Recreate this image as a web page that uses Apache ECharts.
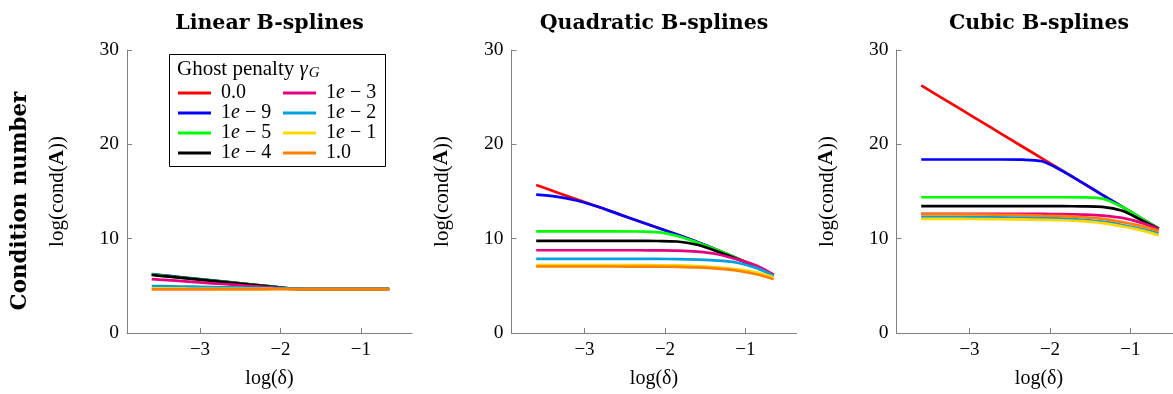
<!DOCTYPE html>
<html>
<head>
<meta charset="utf-8">
<script src="https://cdn.jsdelivr.net/npm/echarts@6/dist/echarts.min.js"></script>
<style>
html,body{margin:0;padding:0;background:#fff;overflow:hidden;width:1173px;height:394px;}
#chart{width:1200px;height:394px;}
</style>
</head>
<body>
<div id="chart"></div>
<script>
// ---- data ----
const panelTitles = ['Linear B-splines', 'Quadratic B-splines', 'Cubic B-splines'];
const seriesNames = ['0.0', '1e-9', '1e-5', '1e-4', '1e-3', '1e-2', '1e-1', '1.0'];
const logDelta = [-3.6, -3.35, -3.1, -2.85, -2.6, -2.35, -2.1, -1.85, -1.6, -1.35, -1.1, -0.85, -0.65];
const xTicks = [-3, -2, -1];
const yTicks = [0, 10, 20, 30];

// Linear B-splines
const linRed    = [6.20, 5.98, 5.77, 5.55, 5.34, 5.12, 4.91, 4.69, 4.65, 4.65, 4.65, 4.65, 4.65];
const linBlue   = [6.25, 6.02, 5.80, 5.58, 5.36, 5.14, 4.92, 4.70, 4.65, 4.65, 4.65, 4.65, 4.65];
const linGreen  = [6.20, 5.98, 5.77, 5.55, 5.34, 5.12, 4.91, 4.69, 4.65, 4.65, 4.65, 4.65, 4.65];
const linBlack  = [6.15, 5.94, 5.73, 5.52, 5.31, 5.10, 4.89, 4.68, 4.65, 4.65, 4.65, 4.65, 4.65];
const linMag    = [5.72, 5.57, 5.42, 5.27, 5.12, 4.97, 4.83, 4.68, 4.65, 4.65, 4.65, 4.65, 4.65];
const linCyan   = [4.98, 4.95, 4.91, 4.87, 4.83, 4.78, 4.73, 4.68, 4.65, 4.65, 4.65, 4.65, 4.65];
const linYellow = [4.70, 4.70, 4.69, 4.69, 4.68, 4.68, 4.67, 4.66, 4.65, 4.65, 4.65, 4.65, 4.65];
const linOrange = [4.63, 4.63, 4.63, 4.63, 4.63, 4.63, 4.64, 4.64, 4.64, 4.64, 4.64, 4.64, 4.64];

// Quadratic B-splines
const quadRed    = [15.68, 14.93, 14.18, 13.43, 12.68, 11.93, 11.18, 10.43, 9.65, 8.80, 7.90, 6.95, 6.15];
const quadBlue   = [14.66, 14.45, 14.05, 13.43, 12.68, 11.93, 11.18, 10.43, 9.65, 8.80, 7.90, 6.95, 6.15];
const quadGreen  = [10.77, 10.77, 10.77, 10.77, 10.77, 10.76, 10.70, 10.30, 9.60, 8.80, 7.90, 6.95, 6.15];
const quadBlack  = [9.76, 9.76, 9.76, 9.76, 9.76, 9.76, 9.75, 9.70, 9.35, 8.65, 7.85, 6.95, 6.15];
const quadMag    = [8.77, 8.77, 8.77, 8.77, 8.77, 8.77, 8.76, 8.73, 8.62, 8.35, 7.80, 7.10, 6.15];
const quadCyan   = [7.86, 7.86, 7.86, 7.86, 7.86, 7.86, 7.85, 7.83, 7.78, 7.68, 7.45, 6.85, 6.05];
const quadYellow = [7.19, 7.19, 7.19, 7.19, 7.19, 7.19, 7.18, 7.17, 7.10, 6.97, 6.75, 6.40, 5.90];
const quadOrange = [7.05, 7.05, 7.05, 7.05, 7.05, 7.04, 7.03, 7.01, 6.95, 6.82, 6.60, 6.20, 5.70];

// Cubic B-splines
const cubRed    = [26.24, 24.95, 23.67, 22.38, 21.09, 19.80, 18.52, 17.23, 15.94, 14.65, 13.37, 12.08, 11.05];
const cubBlue   = [18.39, 18.39, 18.39, 18.39, 18.39, 18.37, 18.20, 17.20, 15.94, 14.65, 13.37, 12.08, 11.05];
const cubGreen  = [14.39, 14.39, 14.39, 14.39, 14.39, 14.39, 14.39, 14.39, 14.38, 14.25, 13.35, 12.08, 11.05];
const cubBlack  = [13.44, 13.44, 13.44, 13.44, 13.44, 13.44, 13.44, 13.44, 13.43, 13.38, 12.95, 11.90, 11.05];
const cubMag    = [12.62, 12.62, 12.62, 12.62, 12.62, 12.62, 12.62, 12.60, 12.55, 12.45, 12.20, 11.65, 11.00];
const cubCyan   = [12.28, 12.28, 12.27, 12.26, 12.25, 12.23, 12.20, 12.12, 12.00, 11.80, 11.45, 11.00, 10.60];
const cubYellow = [12.10, 12.10, 12.09, 12.08, 12.06, 12.04, 12.00, 11.95, 11.85, 11.65, 11.30, 10.85, 10.35];
const cubOrange = [12.60, 12.60, 12.58, 12.56, 12.53, 12.50, 12.44, 12.38, 12.28, 12.10, 11.75, 11.30, 10.80];

const panelData = [
  [linRed, linBlue, linGreen, linBlack, linMag, linCyan, linYellow, linOrange],
  [quadRed, quadBlue, quadGreen, quadBlack, quadMag, quadCyan, quadYellow, quadOrange],
  [cubRed, cubBlue, cubGreen, cubBlack, cubMag, cubCyan, cubYellow, cubOrange]
];
const colors = ['#ff0000', '#0000ff', '#00ff00', '#000000', '#e6007e', '#00a0e0', '#ffd700', '#ff8000'];

// ---- layout ----
const gridLeft = [127, 511.5, 896.5];
const gridW = 285, gridTop = 50, gridH = 285;
const axisGray = '#808080';
const serif = '"Liberation Serif", serif';
const boldSerif = '"DejaVu Serif", serif';

const grids = [], xAxes = [], yAxes = [], series = [], graphics = [];
for (let p = 0; p < 3; p++) {
  grids.push({left: gridLeft[p], top: gridTop, width: gridW, height: gridH});
  xAxes.push({
    type: 'value', gridIndex: p, min: -3.907, max: -0.366,
    name: 'log(δ)', nameLocation: 'middle', nameGap: 36,
    nameTextStyle: {fontFamily: serif, fontSize: 20, color: '#000'},
    axisLine: {show: true, lineStyle: {color: axisGray, width: 1}},
    axisTick: {show: true, inside: true, length: 5, customValues: xTicks, lineStyle: {color: axisGray}},
    axisLabel: {customValues: xTicks, fontFamily: serif, fontSize: 19, color: '#000', margin: 8,
      formatter: v => (v < 0 ? '\u2212' + Math.abs(v) : String(v))},
    splitLine: {show: false}
  });
  yAxes.push({
    type: 'value', gridIndex: p, min: 0, max: 30, interval: 10,
    name: 'log(cond({b|A}))', nameLocation: 'middle', nameGap: 59, nameRotate: 90,
    nameTextStyle: {fontFamily: serif, fontSize: 21, color: '#000',
      rich: {b: {fontFamily: serif, fontSize: 21, fontWeight: 'bold', color: '#000'}}},
    axisLine: {show: true, lineStyle: {color: axisGray, width: 1}},
    axisTick: {show: true, inside: true, length: 5, lineStyle: {color: axisGray}},
    axisLabel: {fontFamily: serif, fontSize: 19.5, color: '#000', margin: 8},
    splitLine: {show: false}
  });
  for (let s = 0; s < seriesNames.length; s++) {
    series.push({
      type: 'line', name: seriesNames[s], xAxisIndex: p, yAxisIndex: p,
      data: logDelta.map((x, i) => [x, panelData[p][s][i]]),
      showSymbol: false, symbol: 'none', smooth: 0.3,
      lineStyle: {color: colors[s], width: 2.7},
      itemStyle: {color: colors[s]},
      silent: true, animation: false
    });
  }
  graphics.push({
    type: 'text',
    x: gridLeft[p] + gridW / 2, y: 24,
    style: {text: panelTitles[p], font: 'bold 20.5px ' + boldSerif, fill: '#000',
      textAlign: 'center', textVerticalAlign: 'middle'}
  });
}

// Condition number label
graphics.push({
  type: 'text', x: 20, y: 201, rotation: Math.PI / 2,
  style: {text: 'Condition number', font: 'bold 21.4px ' + boldSerif, fill: '#000',
    textAlign: 'center', textVerticalAlign: 'middle'}
});
// Legend frame
graphics.push({
  type: 'rect', shape: {x: 169.5, y: 54.5, width: 216, height: 112},
  style: {fill: '#fff', stroke: '#000', lineWidth: 1}, z: 5
});
graphics.push({
  type: 'text', x: 177, y: 69, z: 6,
  style: {
    rich: {
      g: {fontFamily: serif, fontSize: 21, fill: '#000'},
      gi: {fontFamily: serif, fontSize: 21, fontStyle: 'italic', fill: '#000'},
      sub: {fontFamily: serif, fontSize: 15, fontStyle: 'italic', fill: '#000', padding: [8, 0, 0, 1]}
    },
    text: '{g|Ghost penalty }{gi|γ}{sub|G}',
    textVerticalAlign: 'middle'
  }
});

const legendRich = {
  n: {fontFamily: serif, fontSize: 20, color: '#000'},
  i: {fontFamily: serif, fontSize: 20, fontStyle: 'italic', color: '#000'}
};
function legendFmt(name) {
  if (name.indexOf('e-') > 0) {
    const parts = name.split('e-');
    return '{n|' + parts[0] + '}{i|e}{n| \u2212 ' + parts[1] + '}';
  }
  return '{n|' + name + '}';
}
function makeLegend(names, left) {
  return {
    data: names.map(n => ({name: n, icon: 'rect'})),
    orient: 'vertical', left: left, top: 78, itemWidth: 33, itemHeight: 3, itemGap: 0,
    selectedMode: false, z: 10,
    textStyle: {rich: legendRich, lineHeight: 20, padding: [0, 0, 0, 5]},
    formatter: legendFmt
  };
}

const chart = echarts.init(document.getElementById('chart'), null, {renderer: 'canvas'});
chart.setOption({
  animation: false,
  backgroundColor: '#fff',
  grid: grids, xAxis: xAxes, yAxis: yAxes, series: series,
  legend: [makeLegend(seriesNames.slice(0, 4), 173), makeLegend(seriesNames.slice(4), 278)],
  graphic: graphics
});
</script>
</body>
</html>
